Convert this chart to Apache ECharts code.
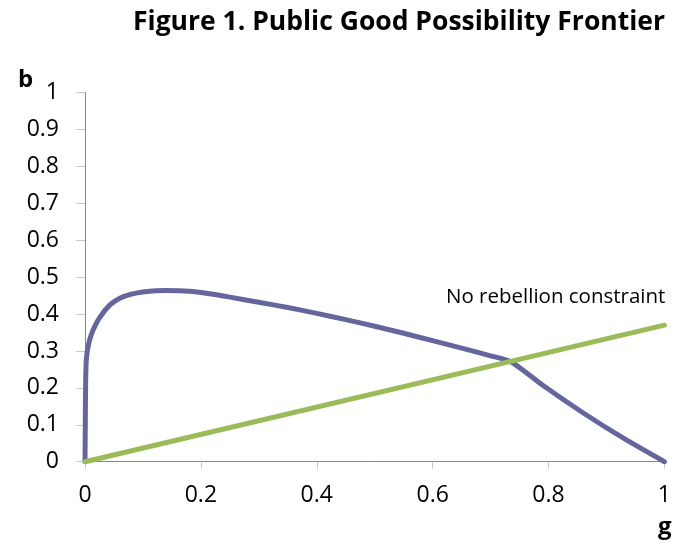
<!DOCTYPE html>
<html>
<head>
<meta charset="utf-8">
<script src="https://cdn.jsdelivr.net/npm/echarts@6/dist/echarts.min.js"></script>
<style>
html,body{margin:0;padding:0;background:#fff;}
#chart{width:674px;height:547px;}
</style>
</head>
<body>
<div id="chart"></div>
<script>
// Public good possibility frontier (g, b)
var frontierG = [0, 0.0005, 0.001, 0.002, 0.004, 0.008, 0.014, 0.025, 0.043, 0.06, 0.08, 0.1, 0.14, 0.18, 0.215, 0.25, 0.3, 0.35, 0.4, 0.45, 0.5, 0.55, 0.6, 0.65, 0.7, 0.735, 0.79, 0.86, 0.93, 1];
var frontierB = [0, 0.1, 0.2, 0.27, 0.30, 0.33, 0.357, 0.39, 0.425, 0.443, 0.454, 0.46, 0.464, 0.462, 0.455, 0.446, 0.432, 0.418, 0.402, 0.385, 0.367, 0.348, 0.328, 0.308, 0.287, 0.271, 0.207, 0.132, 0.063, 0];
// No rebellion constraint (straight line)
var constraintG = [0, 1];
var constraintB = [0, 0.37];
var titleText = 'Figure 1. Public Good Possibility Frontier';
var constraintLabel = 'No rebellion constraint';

function zip(a, b) { return a.map(function (v, i) { return [v, b[i]]; }); }

var chart = echarts.init(document.getElementById('chart'));
var FONT = '"Open Sans", sans-serif';
chart.setOption({
  animation: false,
  backgroundColor: '#ffffff',
  title: [
    { text: titleText, right: 4, top: 4,
      textStyle: { fontFamily: FONT, fontWeight: 'bold', fontSize: 26.5, color: '#000' } },
    { text: 'b', left: 13, top: 63,
      textStyle: { fontFamily: FONT, fontWeight: 'bold', fontSize: 24, color: '#000' } },
    { text: 'g', left: 653, top: 510,
      textStyle: { fontFamily: FONT, fontWeight: 'bold', fontSize: 24, color: '#000' } }
  ],
  graphic: [
    { type: 'text', left: 446, top: 287,
      style: { text: constraintLabel, font: '20.5px ' + FONT, fill: '#000' } }
  ],
  grid: { left: 85, right: 8, top: 92.7, bottom: 85.3, containLabel: false },
  xAxis: {
    type: 'value', min: 0, max: 1, interval: 0.2,
    axisLine: { show: true, lineStyle: { color: '#868686', width: 1 } },
    axisTick: { show: true, length: 7, lineStyle: { color: '#c8c8c8', width: 1 } },
    axisLabel: { margin: 22, fontFamily: FONT, fontSize: 23, color: '#000' },
    splitLine: { show: false }
  },
  yAxis: {
    type: 'value', min: 0, max: 1, interval: 0.1,
    axisLine: { show: true, lineStyle: { color: '#868686', width: 1 } },
    axisTick: { show: true, length: 9, lineStyle: { color: '#c8c8c8', width: 1 } },
    axisLabel: { margin: 26, fontFamily: FONT, fontSize: 23, color: '#000' },
    splitLine: { show: false }
  },
  series: [
    { type: 'line', name: 'Frontier', data: zip(frontierG, frontierB),
      showSymbol: false, smooth: 0.25,
      lineStyle: { color: '#65669e', width: 5, cap: 'round', join: 'round' } },
    { type: 'line', name: 'Constraint', data: zip(constraintG, constraintB),
      showSymbol: false,
      lineStyle: { color: '#9bbb59', width: 5, cap: 'round' } }
  ]
});
</script>
</body>
</html>
